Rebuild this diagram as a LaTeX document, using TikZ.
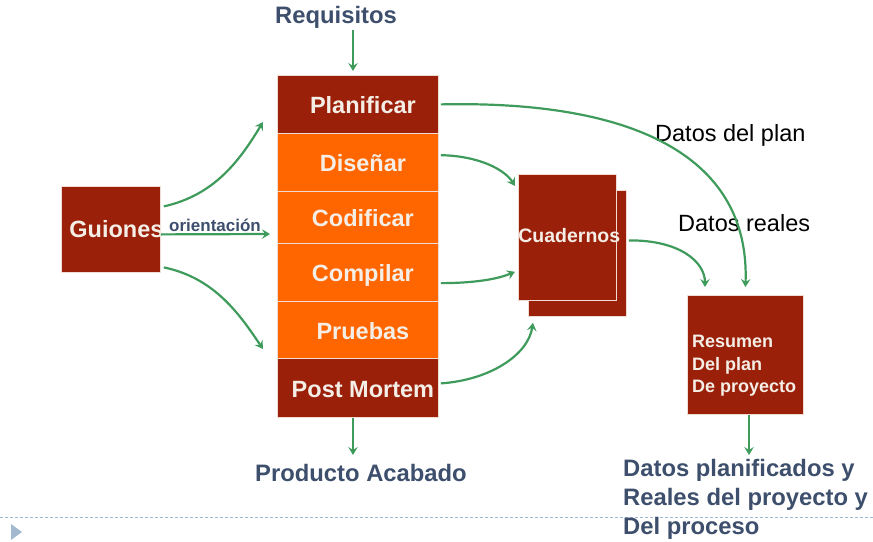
\documentclass[tikz,border=0pt]{standalone}
\usepackage{fontspec}
\setmainfont{Liberation Sans}
\usetikzlibrary{arrows.meta,calc}
\definecolor{darkred}{HTML}{9B2009}
\definecolor{orng}{HTML}{FF6600}
\definecolor{grn}{HTML}{3F9B5B}
\definecolor{slate}{HTML}{3D4F6C}
\definecolor{cream}{HTML}{F4EEE6}
\definecolor{edge}{HTML}{F0DCD2}
\definecolor{dashblue}{HTML}{9DB9D3}
\definecolor{tri}{HTML}{A3B9D0}
\begin{document}
\begin{tikzpicture}[x=1pt,y=-1pt,
  box/.style={draw=edge,line width=0.8,inner sep=0,anchor=north west,text=cream},
  stage/.style={box,minimum width=161,font=\fontsize{23.5}{28}\selectfont\bfseries,
    text height=19,text depth=0,execute at begin node=\hspace*{10pt}},
  arr/.style={draw=grn,line width=2.2,-{Stealth[length=8pt,width=9.5pt,inset=3pt]}},
  title/.style={text=slate,font=\fontsize{23.8}{29}\selectfont\bfseries,inner sep=2}]
\useasboundingbox (0,0) rectangle (873,541);

% footer rule and bullet
\draw[dashblue,line width=1,dash pattern=on 3pt off 2pt] (0,517) -- (873,517);
\fill[tri] (11,524) -- (11,540) -- (22,532) -- cycle;

% process stages
\node[stage,fill=darkred,minimum height=58]  (plan) at (277,75)    {Planificar};
\node[stage,fill=orng,minimum height=57.5]   (dis)  at (277,133)   {Diseñar};
\node[stage,fill=orng,minimum height=52.5]   (cod)  at (277,190.5) {Codificar};
\node[stage,fill=orng,minimum height=57.5]   (comp) at (277,243)   {Compilar};
\node[stage,fill=orng,minimum height=57.5]   (prue) at (277,300.5) {Pruebas};
\node[stage,fill=darkred,minimum height=59]  (post) at (277,358)   {Post Mortem};

% scripts
\node[box,fill=darkred,minimum width=99,minimum height=86,text width=83,inner xsep=8,
  align=left,text height=15.4,text depth=0,font=\fontsize{23.5}{28}\selectfont\bfseries]
  (guion) at (61,186) {Guiones};

% notebooks
\node[box,fill=darkred,minimum width=98,minimum height=126] (cuadback) at (528,190) {};
\node[box,fill=darkred,minimum width=98,minimum height=126,text width=98,align=left,
  text height=10,text depth=0,font=\fontsize{19.5}{24}\selectfont\bfseries]
  (cuad) at (518,174) {Cuadernos};

% summary
\node[box,fill=darkred,minimum width=116,minimum height=119] (resumen) at (687,295) {};
\node[anchor=base west,inner sep=0,align=left,text=cream,
  font=\fontsize{18}{22.3}\selectfont\bfseries] (resumentxt) at (692,392.3)
  {Resumen\\Del plan\\De proyecto};

% labels
\node[title] (req) at (336,17) {Requisitos};
\node[title] (prod) at (361,473) {Producto Acabado};
\node[title,anchor=base west,align=left,inner sep=0] (final) at (623,534.5)
  {Datos planificados y\\Reales del proyecto y\\Del proceso};
\node[anchor=base west,inner sep=0,font=\fontsize{23.5}{28}\selectfont] (dplan) at (655,141.7) {Datos del plan};
\node[anchor=base west,inner sep=0,font=\fontsize{23.5}{28}\selectfont] (dreal) at (678,231.7) {Datos reales};
\node[anchor=base west,inner sep=0,text=slate,font=\fontsize{17}{20}\selectfont\bfseries]
  (orient) at (169,231.7) {orientación};

% free ends
\coordinate (gUp)  at (263,122);
\coordinate (gDn)  at (263,349);
\coordinate (gMid) at (270,234);
\coordinate (reqA) at (353,71);
\coordinate (postA) at (353,455);
\coordinate (resA) at (749,455);

% connectors
\draw[arr] (reqA |- req.south) -- (reqA);
\draw[arr] (postA |- post.south) -- (postA);
\draw[arr] (resA |- resumen.south) -- (resA);

\draw[arr] ([shift={(3,-23)}]guion.east) .. controls (215,195) and (240,160) .. (gUp);
\draw[arr] ([shift={(3,38)}]guion.east) .. controls (215,278) and (240,315) .. (gDn);
\draw[arr] ([shift={(0,5)}]guion.east) -- (gMid);

\draw[arr] ([shift={(2,0)}]plan.east) .. controls (640,100) and (750,160) .. ([shift={(0,-8)}]resumen.north);
\draw[arr] ([shift={(2,-7)}]dis.east) .. controls (480,156) and (505,170) .. ([shift={(-3,12)}]cuad.north west);
\draw[arr] ([shift={(2,11)}]comp.east) .. controls (480,283) and (500,278) .. ([shift={(-3,-29)}]cuad.south west);
\draw[arr] ([shift={(2,-4.5)}]post.east) .. controls (490,380) and (528,355) .. ([shift={(5,6)}]cuadback.south west);
\draw[arr] ([shift={(2,-13)}]cuadback.east) .. controls (680,240) and (705,262) .. ([shift={(18,-8)}]resumen.north west);
\end{tikzpicture}
\end{document}
